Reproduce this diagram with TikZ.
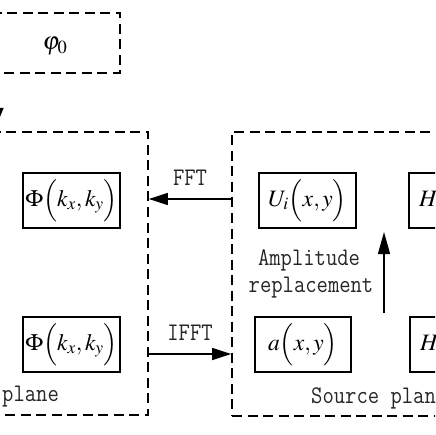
\documentclass[tikz,border=0pt]{standalone}
\usepackage{mathptmx}
\usepackage[no-math]{fontspec}
\usetikzlibrary{arrows.meta}
\newcommand{\tallt}[1]{\scalebox{1}[1.15]{#1}}
\begin{document}
\begin{tikzpicture}[x=1pt,y=-1pt,
  dashbox/.style={draw, line width=1.7pt, dash pattern=on 10pt off 5.5pt, rectangle, inner sep=0pt},
  mathbox/.style={draw, line width=1.4pt, rectangle, inner sep=0pt, minimum height=55pt, font=\fontsize{23.5}{27}\selectfont},
  lbl/.style={font=\ttfamily\fontsize{22}{28}\selectfont, text=black!85, inner sep=0pt},
  arr/.style={line width=1.4pt, -{Triangle[length=19pt,width=12pt]}}]
\useasboundingbox (0,0) rectangle (435,435);
\clip (0,0) rectangle (435,435);
% dashed frames
\node[dashbox, minimum width=240pt, minimum height=60pt] (init) at (0,43) {};
\node[dashbox, minimum width=298pt, minimum height=283pt] (fourier) at (-1,273.5) {};
\node[dashbox, minimum width=298pt, minimum height=284pt] (source) at (381,274) {};
% phi0
\node[font=\fontsize{25}{28}\selectfont] (phi0) at (55,46) {$\varphi_{0}$};
% boxes
\node[mathbox, minimum width=97pt] (phit) at (71.5,200.5) {$\Phi\Bigl(k_{x},k_{y}\Bigr)$};
\node[mathbox, minimum width=97pt] (phib) at (71.5,344.5) {$\Phi\Bigl(k_{x},k_{y}\Bigr)$};
\node[mathbox, minimum width=97pt] (ui) at (307.5,200.5) {$U_{i}\Bigl(x,y\Bigr)$};
\node[mathbox, minimum width=96pt] (amp) at (303,344.5) {$a\Bigl(x,y\Bigr)$};
\node[mathbox, minimum width=97pt] (ht) at (457.5,200.5) {$H\Bigl(x,y\Bigr)$};
\node[mathbox, minimum width=97pt] (hb) at (458.5,344.5) {$H\Bigl(x,y\Bigr)$};
% arrows
\coordinate (fft) at (190,199);
\coordinate (ifft) at (190,354);
\draw[arr] (source.west |- fft) -- (fourier.east |- fft);
\draw[arr] (fourier.east |- ifft) -- (source.west |- ifft);
\coordinate (upS) at (384,313);
\coordinate (upE) at (384,232);
\draw[arr, -{Triangle[length=22pt,width=12pt]}] (upS) -- (upE);
\coordinate (inA) at (-3,80);
\coordinate (inB) at (-3,124);
\draw[arr, -{Triangle[length=16pt,width=13pt]}] (inA) -- (inB);
% labels
\node[lbl] (fftl) at (190,178) {\tallt{FFT}};
\node[lbl] (ifftl) at (190,333) {\tallt{IFFT}};
\node[lbl] (repl1) at (309,260) {\tallt{Amplitude}};
\node[lbl] (repl2) at (311,288) {\tallt{replacement}};
\node[lbl, anchor=west] (fpl) at (2,397) {\tallt{plane}};
\node[lbl, anchor=west] (spl) at (311,398) {\tallt{Source plane}};
\end{tikzpicture}
\end{document}
